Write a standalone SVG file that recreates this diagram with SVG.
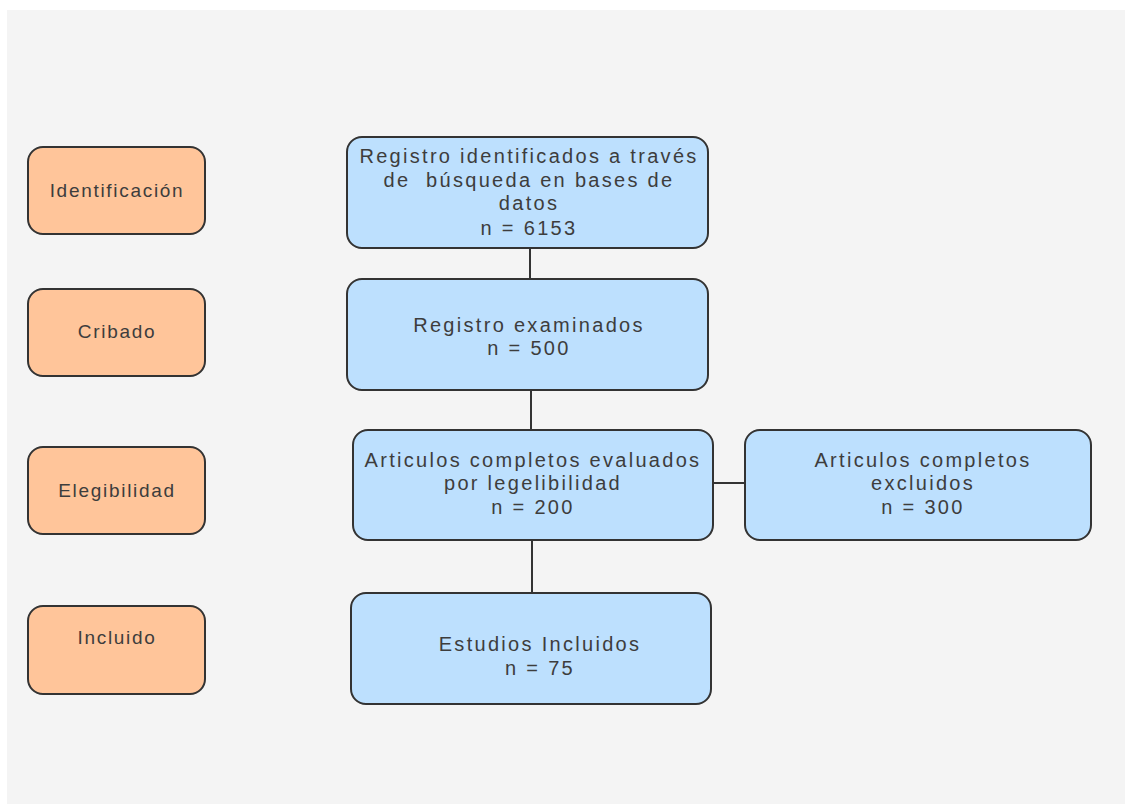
<svg xmlns="http://www.w3.org/2000/svg" width="1125" height="805" viewBox="0 0 1125 805">
<style>
.stage{fill:#ffc59a;stroke:#333;stroke-width:2}
.step{fill:#bde0fe;stroke:#333;stroke-width:2}
.t{font-family:"Liberation Sans",Arial,sans-serif;fill:#3d3d3d;text-anchor:middle}
.ts{font-size:19px;letter-spacing:1.7px}
.tb{font-size:20px;letter-spacing:2.3px}
.pre{white-space:pre}
.c{stroke:#333;stroke-width:2;fill:none}
</style>
<rect width="1125" height="805" fill="#ffffff"/>
<rect x="7" y="10" width="1118" height="794" fill="#f4f4f4"/>
<g id="stage-identificacion"><rect class="stage" x="28" y="147" width="177" height="87" rx="15"/><text class="t ts" x="117" y="197">Identificación</text></g>
<g id="stage-cribado"><rect class="stage" x="28" y="289" width="177" height="87" rx="15"/><text class="t ts" x="117" y="338">Cribado</text></g>
<g id="stage-elegibilidad"><rect class="stage" x="28" y="447" width="177" height="87" rx="15"/><text class="t ts" x="117" y="497">Elegibilidad</text></g>
<g id="stage-incluido"><rect class="stage" x="28" y="606" width="177" height="88" rx="15"/><text class="t ts" x="117" y="644">Incluido</text></g>
<g id="connectors">
<line class="c" x1="530" y1="248" x2="530" y2="279"/>
<line class="c" x1="531" y1="390" x2="531" y2="430"/>
<line class="c" x1="532" y1="538" x2="532" y2="593"/>
<circle cx="532" cy="537" r="2" fill="#333"/>
<line class="c" x1="713" y1="483" x2="745" y2="483"/>
</g>
<g id="node-identificados"><rect class="step" x="347" y="137" width="361" height="111" rx="15"/>
<text class="t tb"><tspan x="529" y="163">Registro identificados a través</tspan><tspan class="pre" x="529" y="187">de  búsqueda en bases de</tspan><tspan x="529" y="210">datos</tspan><tspan x="529" y="235">n = 6153</tspan></text></g>
<g id="node-examinados"><rect class="step" x="347" y="279" width="361" height="111" rx="15"/>
<text class="t tb"><tspan x="529" y="332">Registro examinados</tspan><tspan x="529" y="355">n = 500</tspan></text></g>
<g id="node-evaluados"><rect class="step" x="353" y="430" width="360" height="110" rx="15"/>
<text class="t tb"><tspan x="533" y="467">Articulos completos evaluados</tspan><tspan x="533" y="490">por legelibilidad</tspan><tspan x="533" y="514">n = 200</tspan></text></g>
<g id="node-excluidos"><rect class="step" x="745" y="430" width="346" height="110" rx="15"/>
<text class="t tb"><tspan x="923" y="467">Articulos completos</tspan><tspan x="923" y="490">excluidos</tspan><tspan x="923" y="514">n = 300</tspan></text></g>
<g id="node-incluidos"><rect class="step" x="351" y="593" width="360" height="111" rx="15"/>
<text class="t tb"><tspan x="540" y="651">Estudios Incluidos</tspan><tspan x="540" y="675">n = 75</tspan></text></g>
</svg>
